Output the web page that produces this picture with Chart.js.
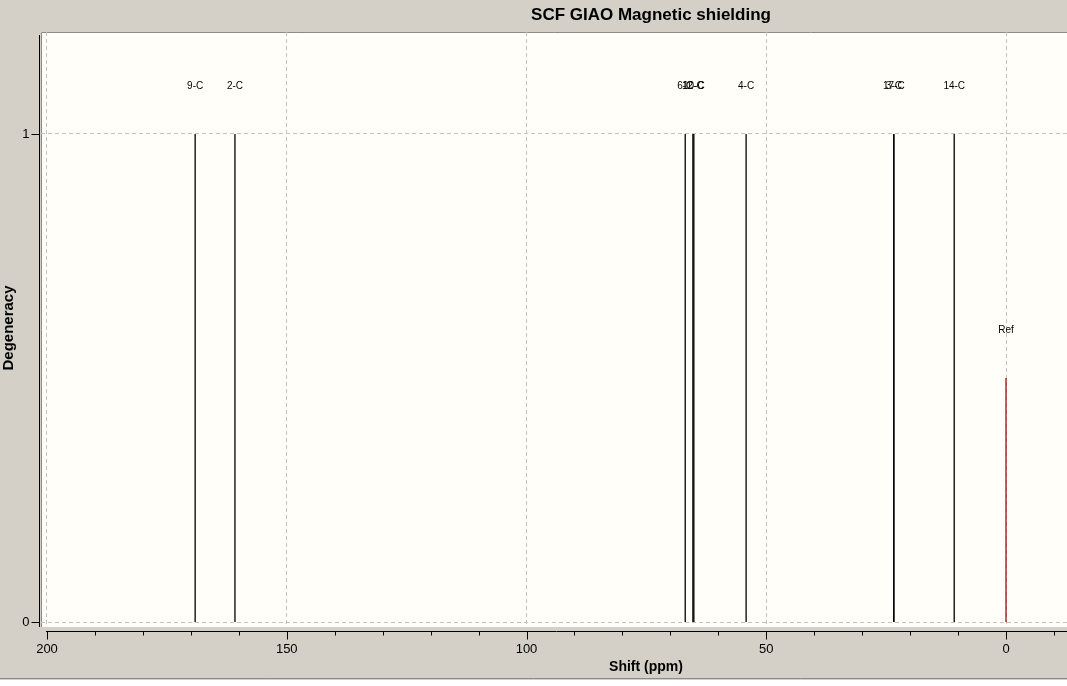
<!DOCTYPE html>
<html>
<head>
<meta charset="utf-8">
<script src="https://cdn.jsdelivr.net/npm/chart.js@4.4.1/dist/chart.umd.min.js"></script>
<style>
  html, body { margin: 0; padding: 0; background: #d4d0c8; }
  #wrap { position: relative; width: 1067px; height: 686px; }
</style>
</head>
<body>
<div id="wrap"><canvas id="nmr"></canvas></div>
<script>
// Data (ppm shift, degeneracy, atom label)
const peakLabels = ['9-C', '2-C', '6-C', '12-C', '10-C', '4-C', '17-C', '3-C', '14-C'];
const peakShifts = [169.1, 160.8, 66.9, 65.3, 65.1, 54.2, 23.4, 23.4, 10.8];
const peakDegeneracy = [1, 1, 1, 1, 1, 1, 1, 1, 1];
const refLabels = ['Ref'];
const refShifts = [0];
const refDegeneracy = [0.5];
const xTickValues = [200, 150, 100, 50, 0];
const yTickValues = [0, 1];

const FONT = '"Liberation Sans", Arial, sans-serif';

// one dataset per stick, so each is a separate vertical segment
const datasets = [];
peakShifts.forEach((s, i) => {
    datasets.push({
        label: peakLabels[i],
        data: [{x: s, y: 0}, {x: s, y: peakDegeneracy[i]}],
        borderColor: '#000000',
        borderWidth: 1.3
    });
});
refShifts.forEach((s, i) => {
    datasets.push({
        label: refLabels[i],
        data: [{x: s, y: 0}, {x: s, y: refDegeneracy[i]}],
        borderColor: '#9a1010',
        borderWidth: 1.3
    });
});

// frame, axes, labels - drawn with the chart's own scales
const decorations = {
    id: 'decorations',
    beforeDraw(chart) {
        const {ctx, chartArea: a} = chart;
        ctx.save();
        ctx.fillStyle = '#d4d0c8';
        ctx.fillRect(0, 0, chart.width, chart.height);
        ctx.fillStyle = '#fffef8';
        ctx.fillRect(a.left, a.top, a.right - a.left, a.bottom - a.top);
        // sunken border
        ctx.strokeStyle = '#8c8a84';
        ctx.lineWidth = 1;
        ctx.beginPath();
        ctx.moveTo(a.left + 0.5, a.bottom);
        ctx.lineTo(a.left + 0.5, a.top + 0.5);
        ctx.lineTo(a.right, a.top + 0.5);
        ctx.stroke();
        // bottom strip
        ctx.fillStyle = '#ffffff';
        ctx.fillRect(0, 680, chart.width, 6);
        ctx.strokeStyle = '#8c8a84';
        ctx.beginPath();
        ctx.moveTo(0, 678.5);
        ctx.lineTo(chart.width, 678.5);
        ctx.stroke();
        ctx.restore();
    },
    afterDraw(chart) {
        const {ctx, chartArea: a} = chart;
        const xs = chart.scales.x, ys = chart.scales.y;
        ctx.save();
        ctx.strokeStyle = '#000';
        ctx.fillStyle = '#000';
        ctx.lineWidth = 1;

        // x axis
        const axY = a.bottom + 4.5;
        ctx.beginPath();
        ctx.moveTo(xs.getPixelForValue(200) - 1, axY);
        ctx.lineTo(a.right, axY);
        for (let v = 200; v >= -10; v -= 10) {
            const px = Math.round(xs.getPixelForValue(v)) + 0.5;
            ctx.moveTo(px, axY);
            ctx.lineTo(px, axY + (v % 50 === 0 ? 8 : 4));
        }
        ctx.stroke();
        ctx.font = '13px ' + FONT;
        ctx.textAlign = 'center';
        ctx.textBaseline = 'middle';
        xTickValues.forEach(v => {
            ctx.fillText(String(v), xs.getPixelForValue(v), axY + 18);
        });

        // y axis
        const axX = a.left - 1.5;
        ctx.beginPath();
        ctx.moveTo(axX, a.top + 3);
        ctx.lineTo(axX, a.bottom);
        yTickValues.forEach(v => {
            const py = Math.round(ys.getPixelForValue(v)) + 0.5;
            ctx.moveTo(axX, py);
            ctx.lineTo(axX - 8, py);
        });
        ctx.stroke();
        ctx.textAlign = 'right';
        yTickValues.forEach(v => {
            ctx.fillText(String(v), axX - 10, ys.getPixelForValue(v));
        });

        // titles
        ctx.textAlign = 'center';
        ctx.font = 'bold 17px ' + FONT;
        ctx.fillText('SCF GIAO Magnetic shielding', 651, 15);
        ctx.font = 'bold 14px ' + FONT;
        ctx.fillText('Shift (ppm)', 646, 667);
        ctx.save();
        ctx.translate(9, 328);
        ctx.rotate(-Math.PI / 2);
        ctx.font = 'bold 15px ' + FONT;
        ctx.fillText('Degeneracy', 0, 0);
        ctx.restore();

        // peak labels above sticks
        ctx.font = '10px ' + FONT;
        chart.data.datasets.forEach(ds => {
            const top = ds.data[1];
            ctx.fillText(ds.label, xs.getPixelForValue(top.x), ys.getPixelForValue(top.y) - 48);
        });
        ctx.restore();
    }
};

new Chart(document.getElementById('nmr'), {
    type: 'scatter',
    data: {datasets: datasets},
    options: {
        responsive: true,
        maintainAspectRatio: false,
        animation: false,
        showLine: true,
        elements: {point: {radius: 0, hoverRadius: 0}},
        plugins: {legend: {display: false}, tooltip: {enabled: false}},
        layout: {padding: {left: 41, top: 32, right: 0, bottom: 59}},
        scales: {
            x: {
                type: 'linear',
                reverse: true,
                min: -12.72,
                max: 201.25,
                afterBuildTicks: s => { s.ticks = xTickValues.map(v => ({value: v})); },
                afterFit: s => { s.height = 0; },
                ticks: {display: false},
                grid: {color: '#c4c4c4', drawTicks: false},
                border: {display: false, dash: [4, 3]}
            },
            y: {
                type: 'linear',
                min: -0.0102,
                max: 1.209,
                afterBuildTicks: s => { s.ticks = yTickValues.map(v => ({value: v})); },
                afterFit: s => { s.width = 0; },
                ticks: {display: false},
                grid: {color: '#c4c4c4', drawTicks: false},
                border: {display: false, dash: [4, 3]}
            }
        }
    },
    plugins: [decorations]
});
</script>
</body>
</html>
